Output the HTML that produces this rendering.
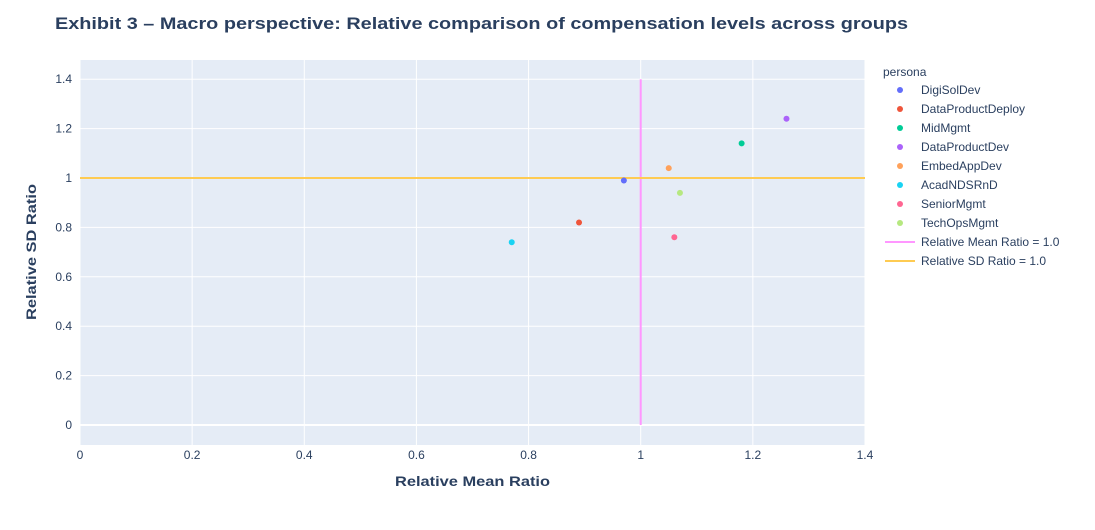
<!DOCTYPE html>
<html><head><meta charset="utf-8"><style>
body{margin:0;background:#fff;font-family:"Liberation Sans",Arial,sans-serif;}
svg text{font-family:"Liberation Sans",Arial,sans-serif;fill:#2a3f5f;}
</style></head><body>
<svg id="chart" width="1095" height="525" xmlns="http://www.w3.org/2000/svg">
<rect width="1095" height="525" fill="#fff"/>
<text x="55" y="29" font-size="17" font-weight="bold" textLength="853" lengthAdjust="spacingAndGlyphs">Exhibit 3 – Macro perspective: Relative comparison of compensation levels across groups</text>
<rect x="80" y="60" width="785" height="385" fill="#e5ecf6"/>
<g id="grid"></g><g id="ticks"></g><g id="lines"></g><g id="marks"></g>
<text x="395" y="486" font-size="14" font-weight="bold" textLength="155" lengthAdjust="spacingAndGlyphs">Relative Mean Ratio</text>
<text transform="translate(36,252) rotate(-90)" font-size="14" font-weight="bold" text-anchor="middle" textLength="136" lengthAdjust="spacingAndGlyphs">Relative SD Ratio</text>
<g id="legend"></g>
</svg>
<script>
const personas=["DigiSolDev","DataProductDeploy","MidMgmt","DataProductDev","EmbedAppDev","AcadNDSRnD","SeniorMgmt","TechOpsMgmt"];
const meanRatio=[0.97,0.89,1.18,1.26,1.05,0.77,1.06,1.07];
const sdRatio=[0.99,0.82,1.14,1.24,1.04,0.74,0.76,0.94];
const colors=["#636efa","#EF553B","#00cc96","#ab63fa","#FFA15A","#19d3f3","#FF6692","#B6E880"];
const xTicks=[0,0.2,0.4,0.6,0.8,1,1.2,1.4];
const yTicks=[0,0.2,0.4,0.6,0.8,1,1.2,1.4];
const refMean=1.0, refSD=1.0;
const NS="http://www.w3.org/2000/svg";
const X=v=>80+v*560.7, Y=v=>425-v*247;
function mk(t,a,p){const e=document.createElementNS(NS,t);for(const k in a)e.setAttribute(k,a[k]);p.appendChild(e);return e;}
const g=document.getElementById('grid'),tk=document.getElementById('ticks');
xTicks.forEach(v=>{const l=mk('line',{x1:X(v),x2:X(v),y1:60,y2:445,stroke:'#fff','stroke-width':1},g);

const t=mk('text',{x:X(v),y:459,'font-size':12,'text-anchor':'middle'},tk);t.textContent=v===0?'0':v===1?'1':v.toFixed(1);
});
yTicks.forEach(v=>{const l=mk('line',{x1:80,x2:865,y1:Y(v),y2:Y(v),stroke:'#fff','stroke-width':v===0?2:1},g);

const t=mk('text',{x:72,y:Y(v)+4,'font-size':12,'text-anchor':'end'},tk);t.textContent=v===0?'0':v===1?'1':v.toFixed(1);
});
const ln=document.getElementById('lines');
const vl=mk('line',{x1:X(refMean),x2:X(refMean),y1:Y(0),y2:Y(1.4),stroke:'#ff97ff','stroke-width':2},ln);

const hl=mk('line',{x1:80,x2:865,y1:Y(refSD),y2:Y(refSD),stroke:'#FECB52','stroke-width':2},ln);

const m=document.getElementById('marks');
personas.forEach((p,i)=>{const c=mk('circle',{cx:X(meanRatio[i]),cy:Y(sdRatio[i]),r:3,fill:colors[i]},m);
});
const lg=document.getElementById('legend');
const lt=mk('text',{x:883,y:76,'font-size':12},lg);lt.textContent='persona';

personas.forEach((p,i)=>{const y=90+i*19;
const c=mk('circle',{cx:900,cy:y,r:3,fill:colors[i]},lg);

const t=mk('text',{x:921,y:y+4,'font-size':12},lg);t.textContent=p;
});
[["Relative Mean Ratio = 1.0","#ff97ff"],["Relative SD Ratio = 1.0","#FECB52"]].forEach((d,j)=>{const y=242+j*19;
const l=mk('line',{x1:885,x2:915,y1:y,y2:y,stroke:d[1],'stroke-width':2},lg);

const t=mk('text',{x:921,y:y+4,'font-size':12},lg);t.textContent=d[0];
});
</script>
</body></html>
